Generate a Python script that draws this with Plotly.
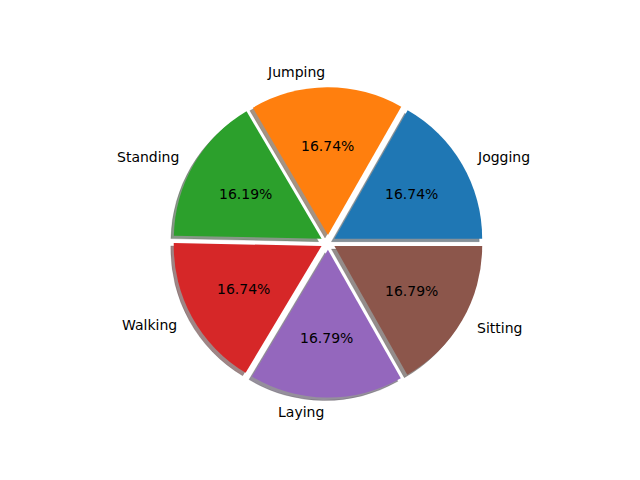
import math
import plotly.graph_objects as go

labels = ["Jogging", "Jumping", "Standing", "Walking", "Laying", "Sitting"]
values = [16.74, 16.74, 16.19, 16.74, 16.79, 16.79]
colors = ["#1f77b4", "#ff7f0e", "#2ca02c", "#d62728", "#9467bd", "#8c564b"]
explode = 0.05

W, H = 640, 480
cx, cy = 328.0, 480 - 242.4   # pie centre in px (y from bottom)
r = 147.8                      # pie radius in px
ext = r * (1 + explode)
shadow_off = 0.02 * r
total = sum(values)


def shade(c):
    c = c.lstrip("#")
    rgb = [int(c[i:i + 2], 16) for i in (0, 2, 4)]
    return "rgba({},{},{},0.5)".format(*[round(v * 0.3) for v in rgb])


def dom(dx=0.0, dy=0.0):
    return dict(x=[(cx - ext + dx) / W, (cx + ext + dx) / W],
                y=[(cy - ext + dy) / H, (cy + ext + dy) / H])


# first slice should start at 3 o'clock and run counterclockwise
rot = 90 - 360 * values[0] / total

common = dict(labels=labels, values=values, sort=False, direction="counterclockwise",
              rotation=rot, pull=[explode] * len(values), textinfo="none",
              hoverinfo="label+percent", showlegend=False)

fig = go.Figure()
fig.add_trace(go.Pie(**common, domain=dom(-shadow_off, -shadow_off),
                     marker=dict(colors=[shade(c) for c in colors],
                                 line=dict(width=0.6, color="rgba(60,60,60,0.35)"))))
fig.add_trace(go.Pie(**common, domain=dom(),
                     marker=dict(colors=colors, line=dict(width=0))))

theta1 = 0.0
font = dict(family="DejaVu Sans", size=14, color="black")
for lab, v in zip(labels, values):
    frac = v / total
    theta2 = theta1 + frac
    tm = 2 * math.pi * (theta1 + theta2) / 2
    ox = explode * r * math.cos(tm)
    oy = explode * r * math.sin(tm)
    lx = cx + ox + 1.1 * r * math.cos(tm)
    ly = cy + oy + 1.1 * r * math.sin(tm)
    fig.add_annotation(x=lx / W, y=ly / H, xref="paper", yref="paper", text=lab,
                       showarrow=False, xanchor="left" if lx - cx > 0 else "right",
                       yanchor="middle", font=font)
    px = cx + ox + 0.6 * r * math.cos(tm)
    py = cy + oy + 0.6 * r * math.sin(tm)
    fig.add_annotation(x=px / W, y=py / H, xref="paper", yref="paper",
                       text="%1.2f%%" % (frac * 100), showarrow=False,
                       xanchor="center", yanchor="middle", font=font)
    theta1 = theta2

fig.update_layout(width=W, height=H, margin=dict(l=0, r=0, t=0, b=0),
                  paper_bgcolor="white", plot_bgcolor="white",
                  font=dict(family="DejaVu Sans"))
fig.write_html("out.html", config={"displayModeBar": False},
               post_script="document.body.style.margin='0';")
